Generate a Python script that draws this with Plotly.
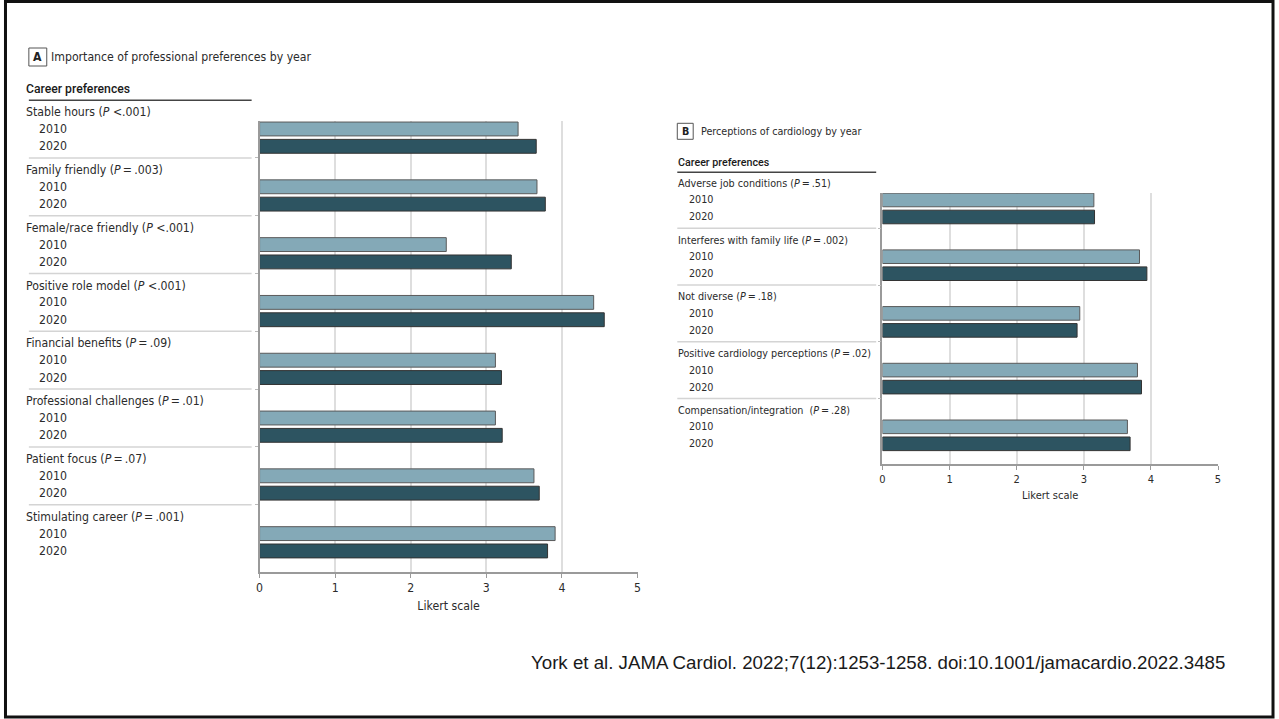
import plotly.graph_objects as go

# ---- data -------------------------------------------------------------
EQ = "\u2009=\u2009"
pref_labels = [
    "Stable hours (<i>P</i> <.001)",
    f"Family friendly (<i>P</i>{EQ}.003)",
    "Female/race friendly (<i>P</i> <.001)",
    "Positive role model (<i>P</i> <.001)",
    f"Financial benefits (<i>P</i>{EQ}.09)",
    f"Professional challenges (<i>P</i>{EQ}.01)",
    f"Patient focus (<i>P</i>{EQ}.07)",
    f"Stimulating career (<i>P</i>{EQ}.001)",
]
pref_2010 = [3.42, 3.67, 2.47, 4.42, 3.12, 3.12, 3.63, 3.91]
pref_2020 = [3.66, 3.78, 3.33, 4.56, 3.20, 3.21, 3.70, 3.81]

perc_labels = [
    f"Adverse job conditions (<i>P</i>{EQ}.51)",
    f"Interferes with family life (<i>P</i>{EQ}.002)",
    f"Not diverse (<i>P</i>{EQ}.18)",
    f"Positive cardiology perceptions (<i>P</i>{EQ}.02)",
    f"Compensation/integration  (<i>P</i>{EQ}.28)",
]
perc_2010 = [3.15, 3.83, 2.94, 3.80, 3.65]
perc_2020 = [3.16, 3.94, 2.90, 3.86, 3.69]

years = ["2010", "2020"]
x_ticks = [0, 1, 2, 3, 4, 5]

# ---- styling ----------------------------------------------------------
W, H = 1279, 719
FONT = "DejaVu Sans Condensed, Liberation Sans Narrow, Roboto, sans-serif"
HEAD_FONT = "Roboto, DejaVu Sans Condensed, sans-serif"
TXT = "#2b2b2b"
LIGHT = "#84a9b7"
DARK = "#2d5461"
GRID = "#dedede"
SEP = "#d4d4d4"
OFFSET = 0.30   # vertical offset of the 2020 bar within a group
BAR_W = 0.24


def px(x):
    return x / W


def py(y):
    return 1 - y / H


# plot areas in pixels: (left, right, top, bottom), reversed y ranges,
# text size and the small horizontal nudge applied to left-anchored text
AREA_A = dict(l=258, r=638, t=121, b=572, y0=-0.138, y1=7.664, size=12.2, nudge=5)
AREA_B = dict(l=884.3, r=1221.7, t=193, b=464, y0=-0.123, y1=4.656, size=10.7, nudge=1)


def ydata_to_paper(area, v):
    """Map a category-axis value to paper coordinates for a reversed axis."""
    frac = (v - area["y0"]) / (area["y1"] - area["y0"])
    pix = area["t"] + frac * (area["b"] - area["t"])
    return py(pix)


fig = go.Figure()

panels = [
    dict(labels=pref_labels, v10=pref_2010, v20=pref_2020, xa="x", ya="y"),
    dict(labels=perc_labels, v10=perc_2010, v20=perc_2020, xa="x2", ya="y2"),
]

for p in panels:
    n = len(p["labels"])
    pos10 = [i for i in range(n)]
    pos20 = [i + OFFSET for i in range(n)]
    fig.add_trace(go.Bar(
        x=p["v10"], y=pos10, orientation="h", width=BAR_W, name=years[0],
        marker=dict(color=LIGHT, line=dict(color="#5a5a5a", width=1)),
        xaxis=p["xa"], yaxis=p["ya"], showlegend=False,
        hovertemplate="%{x:.2f}<extra>2010</extra>",
    ))
    fig.add_trace(go.Bar(
        x=p["v20"], y=pos20, orientation="h", width=BAR_W, name=years[1],
        marker=dict(color=DARK, line=dict(color="#333333", width=1)),
        xaxis=p["xa"], yaxis=p["ya"], showlegend=False,
        hovertemplate="%{x:.2f}<extra>2020</extra>",
    ))


def x_axis(size, standoff):
    return dict(
        range=[0, 5], tickvals=x_ticks, showgrid=True, gridcolor=GRID, gridwidth=1.5,
        zeroline=False, showline=True, linecolor="#9a9a9a", linewidth=1.5,
        ticks="outside", ticklen=4, tickcolor="#9a9a9a",
        tickfont=dict(family=FONT, size=size, color=TXT),
        title=dict(text="Likert scale", font=dict(family=FONT, size=size, color=TXT),
                   standoff=standoff),
        fixedrange=True,
    )


yaxis_common = dict(
    showgrid=False, zeroline=False, showline=True, linecolor="#9a9a9a", linewidth=1.5,
    ticks="outside", ticklen=3, tickcolor="#bbbbbb", showticklabels=False,
    fixedrange=True,
)

fig.update_layout(
    width=W, height=H,
    margin=dict(l=0, r=0, t=0, b=0),
    paper_bgcolor="white", plot_bgcolor="white",
    barmode="overlay",
    font=dict(family=FONT, color=TXT),
    xaxis=dict(domain=[px(AREA_A["l"]), px(AREA_A["r"])], anchor="y", **x_axis(12.2, 7)),
    yaxis=dict(domain=[py(AREA_A["b"]), py(AREA_A["t"])], anchor="x",
               range=[AREA_A["y1"], AREA_A["y0"]],
               tickvals=[i - 0.5 for i in range(1, len(pref_labels))],
               **yaxis_common),
    xaxis2=dict(domain=[px(AREA_B["l"]), px(AREA_B["r"])], anchor="y2", **x_axis(11, 6)),
    yaxis2=dict(domain=[py(AREA_B["b"]), py(AREA_B["t"])], anchor="x2",
                range=[AREA_B["y1"], AREA_B["y0"]],
                tickvals=[i - 0.5 for i in range(1, len(perc_labels))],
                **yaxis_common),
)

annotations = []
shapes = []


def text_left(text, x, y, area, family=FONT, size=None, color=TXT, weight=None):
    font = dict(family=family, size=size or area["size"], color=color)
    if weight:
        font["weight"] = weight
    annotations.append(dict(
        text=text, xref="paper", yref="paper", x=px(x - area["nudge"]), y=y,
        xanchor="left", yanchor="middle", showarrow=False, font=font,
    ))


def side_labels(labels, area, x_left, x_right, x_year, header_y, rule_y):
    text_left("Career preferences", x_left, py(header_y), area, family=HEAD_FONT,
              size=area["size"] * 1.0, color="#1a1a1a", weight=500)
    shapes.append(dict(type="line", xref="paper", yref="paper",
                       x0=px(x_left), x1=px(x_right), y0=py(rule_y), y1=py(rule_y),
                       line=dict(color="#444444", width=1.5)))
    for i, lab in enumerate(labels):
        text_left(lab, x_left, ydata_to_paper(area, i - 0.29), area)
        for k, yr in enumerate(years):
            text_left(yr, x_year, ydata_to_paper(area, i + k * OFFSET), area)
        if i > 0:
            ys = ydata_to_paper(area, i - 0.5)
            shapes.append(dict(type="line", xref="paper", yref="paper",
                               x0=px(x_left), x1=px(x_right), y0=ys, y1=ys,
                               line=dict(color=SEP, width=1.5)))


side_labels(pref_labels, AREA_A, 26, 250, 39, 89.5, 100.3)
side_labels(perc_labels, AREA_B, 678, 878, 689, 162, 172.3)


def panel_title(letter, text, x0, y0, size, area):
    shapes.append(dict(type="rect", xref="paper", yref="paper",
                       x0=px(x0), x1=px(x0 + size), y0=py(y0), y1=py(y0 + size),
                       line=dict(color="#555555", width=1), fillcolor="white"))
    annotations.append(dict(
        text=f"<b>{letter}</b>", xref="paper", yref="paper",
        x=px(x0 + size / 2), y=py(y0 + size / 2), xanchor="center", yanchor="middle",
        showarrow=False, font=dict(family=FONT, size=area["size"], color="#222222"),
    ))
    text_left(text, x0 + size + 7, py(y0 + size / 2), area)


panel_title("A", "Importance of professional preferences by year", 26, 48, 18, AREA_A)
panel_title("B", "Perceptions of cardiology by year", 678, 123.3, 16, AREA_B)

annotations.append(dict(
    text="York et al. JAMA Cardiol. 2022;7(12):1253-1258. doi:10.1001/jamacardio.2022.3485",
    xref="paper", yref="paper", x=px(1231), y=py(662), xanchor="right", yanchor="middle",
    showarrow=False, font=dict(family="Liberation Sans, Arial, sans-serif", size=18.7,
                               color="#1a1a1a"),
))

# outer frame
shapes.append(dict(type="rect", xref="paper", yref="paper",
                   x0=px(2.5), x1=px(1277), y0=py(717), y1=py(1.5),
                   line=dict(color="#111111", width=3)))

fig.update_layout(annotations=annotations, shapes=shapes)
fig.write_html("out.html")
